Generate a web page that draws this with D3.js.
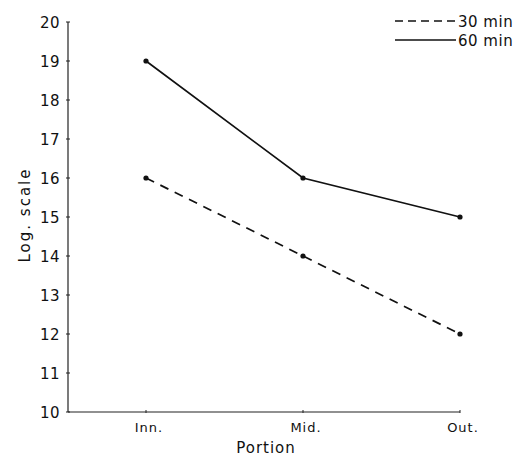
<!DOCTYPE html>
<html>
<head>
<meta charset="utf-8">
<script src="https://cdn.jsdelivr.net/npm/d3@7"></script>
<style>
  body { margin: 0; background: #fff; }
  text { font-family: "DejaVu Sans", sans-serif; fill: #111; }
</style>
</head>
<body>
<svg width="517" height="461"></svg>
<script>
var portions = ["Inn.", "Mid.", "Out."];
var yTicks = [10, 11, 12, 13, 14, 15, 16, 17, 18, 19, 20];
var min30 = [16, 14, 12];
var min60 = [19, 16, 15];
var seriesNames = ["30 min", "60 min"];

var svg = d3.select("svg");

var x = d3.scalePoint()
    .domain(portions)
    .range([146, 460]);

var y = d3.scaleLinear()
    .domain([10, 20])
    .range([412, 22]);

var left = 68;

// y axis
svg.append("line")
    .attr("x1", left).attr("x2", left)
    .attr("y1", y(20)).attr("y2", y(10))
    .attr("stroke", "#222").attr("stroke-width", 1.2);

svg.selectAll(".ytick")
    .data(yTicks)
    .enter().append("line")
    .attr("x1", left - 2).attr("x2", left + 2)
    .attr("y1", function (d) { return y(d); })
    .attr("y2", function (d) { return y(d); })
    .attr("stroke", "#222");

svg.selectAll(".ylab")
    .data(yTicks)
    .enter().append("text")
    .attr("x", 60)
    .attr("y", function (d) { return y(d) + 5.5; })
    .attr("text-anchor", "end")
    .attr("font-size", 15)
    .attr("letter-spacing", 0.5)
    .text(function (d) { return d; });

// x axis
svg.append("line")
    .attr("x1", left).attr("x2", x("Out."))
    .attr("y1", y(10)).attr("y2", y(10))
    .attr("stroke", "#222").attr("stroke-width", 1.2);

svg.selectAll(".xtick")
    .data(portions)
    .enter().append("line")
    .attr("x1", function (d) { return x(d); })
    .attr("x2", function (d) { return x(d); })
    .attr("y1", y(10) - 2).attr("y2", y(10) + 1)
    .attr("stroke", "#222");

svg.selectAll(".xlab")
    .data(portions)
    .enter().append("text")
    .attr("x", function (d) { return x(d) + 3; })
    .attr("y", 432)
    .attr("text-anchor", "middle")
    .attr("font-size", 13)
    .attr("letter-spacing", 1)
    .text(function (d) { return d; });

svg.append("text")
    .attr("x", 266).attr("y", 453)
    .attr("text-anchor", "middle")
    .attr("font-size", 15)
    .attr("letter-spacing", 1)
    .text("Portion");

svg.append("text")
    .attr("transform", "translate(30,215) rotate(-90)")
    .attr("text-anchor", "middle")
    .attr("font-size", 15)
    .attr("letter-spacing", 2)
    .text("Log. scale");

// lines
var line = d3.line()
    .x(function (d, i) { return x(portions[i]); })
    .y(function (d) { return y(d); });

[min30, min60].forEach(function (vals, k) {
    svg.append("path")
        .datum(vals)
        .attr("d", line)
        .attr("fill", "none")
        .attr("stroke", "#111")
        .attr("stroke-width", 1.7)
        .attr("stroke-dasharray", k === 0 ? "9,7" : null);

    svg.selectAll(".pt" + k)
        .data(vals)
        .enter().append("circle")
        .attr("cx", function (d, i) { return x(portions[i]); })
        .attr("cy", function (d) { return y(d); })
        .attr("r", 2.6)
        .attr("fill", "#111");
});

// legend
seriesNames.forEach(function (name, k) {
    var ly = 21 + k * 19;
    svg.append("line")
        .attr("x1", 395).attr("x2", 456)
        .attr("y1", ly).attr("y2", ly)
        .attr("stroke", "#111")
        .attr("stroke-width", 1.4)
        .attr("stroke-dasharray", k === 0 ? "8,5" : null);
    svg.append("text")
        .attr("x", 458).attr("y", ly + 6)
        .attr("font-size", 15)
        .attr("letter-spacing", 0.5)
        .text(name);
});
</script>
</body>
</html>
